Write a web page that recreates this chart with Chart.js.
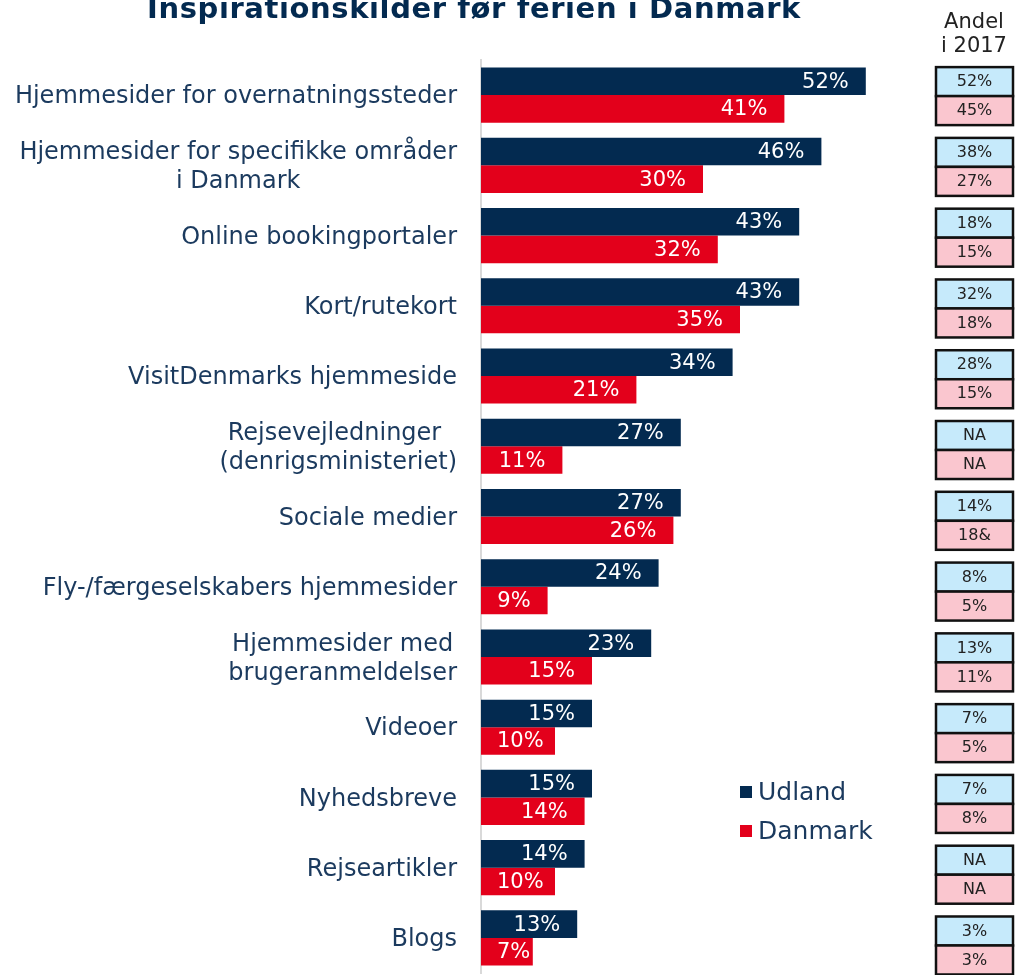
<!DOCTYPE html>
<html>
<head>
<meta charset="utf-8">
<script src="https://cdn.jsdelivr.net/npm/chart.js@4.4.0/dist/chart.umd.min.js"></script>
<style>
  html, body { margin: 0; padding: 0; background: #fff; }
  #wrap { position: relative; width: 1015px; height: 975px; }
</style>
</head>
<body>
<div id="wrap"><canvas id="chart"></canvas></div>
<script>
const title = 'Inspirationskilder før ferien i Danmark'
const columnHeader = ['Andel', 'i 2017']
const seriesNames = ['Udland', 'Danmark']

const categories = [
  'Hjemmesider for overnatningssteder',
  ['Hjemmesider for specifikke områder', 'i Danmark'],
  'Online bookingportaler',
  'Kort/rutekort',
  'VisitDenmarks hjemmeside',
  ['Rejsevejledninger ', '(denrigsministeriet)'],
  'Sociale medier',
  'Fly-/færgeselskabers hjemmesider',
  ['Hjemmesider med', 'brugeranmeldelser'],
  'Videoer',
  'Nyhedsbreve',
  'Rejseartikler',
  'Blogs'
]

const udland = [52, 46, 43, 43, 34, 27, 27, 24, 23, 15, 15, 14, 13]
const danmark = [41, 30, 32, 35, 21, 11, 26, 9, 15, 10, 14, 10, 7]

const udland2017 = ['52%', '38%', '18%', '32%', '28%', 'NA', '14%', '8%', '13%', '7%', '7%', 'NA', '3%']
const danmark2017 = ['45%', '27%', '15%', '18%', '15%', 'NA', '18&', '5%', '11%', '5%', '8%', 'NA', '3%']

const NAVY = '#032a50'
const RED = '#e3001b'
const TEXT = '#1b3a5e'
const FONT = "'DejaVu Sans', sans-serif"

const extras = {
  id: 'extras',
  afterDraw(chart) {
    const { ctx, scales: { x, y } } = chart
    ctx.save()

    // title (cut at the top like the source)
    ctx.font = `bold 29px ${FONT}`
    ctx.letterSpacing = '0.6px'
    ctx.fillStyle = NAVY
    ctx.textAlign = 'center'
    ctx.textBaseline = 'alphabetic'
    ctx.fillText(title, 474, 18)
    ctx.letterSpacing = '0px'

    // category labels, right aligned block, lines centred inside it
    ctx.font = `24px ${FONT}`
    ctx.fillStyle = TEXT
    ctx.textBaseline = 'middle'
    categories.forEach((c, i) => {
      const lines = Array.isArray(c) ? c : [c]
      const yc = y.getPixelForValue(i) + 2
      const w = Math.max(...lines.map(l => ctx.measureText(l).width))
      const cx = 457 - w / 2
      lines.forEach((l, j) => {
        ctx.fillText(l, cx, yc + (j - (lines.length - 1) / 2) * 29)
      })
    })

    // values inside bars
    ctx.font = `21px ${FONT}`
    ctx.fillStyle = '#fff'
    ctx.textAlign = 'right'
    chart.data.datasets.forEach((ds, di) => {
      chart.getDatasetMeta(di).data.forEach((bar, i) => {
        const txt = ds.data[i] + '%'
        const w = ctx.measureText(txt).width
        const right = Math.max(bar.x - 17, x.left + 16 + w)
        ctx.fillText(txt, right, bar.y + 1)
      })
    })

    // legend
    ctx.font = `25px ${FONT}`
    ctx.textAlign = 'left'
    ;[NAVY, RED].forEach((col, k) => {
      const ly = 792 + k * 39
      ctx.fillStyle = col
      ctx.fillRect(740, ly - 6, 12, 12)
      ctx.fillStyle = TEXT
      ctx.fillText(seriesNames[k], 758, ly + 1)
    })

    // 2017 column
    ctx.fillStyle = '#222'
    ctx.textAlign = 'center'
    ctx.font = `21px ${FONT}`
    ctx.fillText(columnHeader[0], 974, 23)
    ctx.fillText(columnHeader[1], 974, 47)

    ctx.font = `16px ${FONT}`
    ctx.lineWidth = 2.5
    ctx.strokeStyle = '#111'
    categories.forEach((c, i) => {
      const yc = y.getPixelForValue(i) + 1 + i * 0.55
      const boxes = [[udland2017[i], '#c6eafb', yc - 29], [danmark2017[i], '#fac6cf', yc]]
      boxes.forEach(([txt, bg, top]) => {
        ctx.fillStyle = bg
        ctx.fillRect(936, top, 77, 29)
        ctx.strokeRect(936, top, 77, 29)
        ctx.fillStyle = '#222'
        ctx.fillText(txt, 974.5, top + 15)
      })
    })

    ctx.restore()
  }
}

new Chart(document.getElementById('chart'), {
  type: 'bar',
  data: {
    labels: categories,
    datasets: [{
      label: seriesNames[0],
      data: udland,
      backgroundColor: NAVY,
      categoryPercentage: 0.785,
      barPercentage: 1
    }, {
      label: seriesNames[1],
      data: danmark,
      backgroundColor: RED,
      categoryPercentage: 0.785,
      barPercentage: 1
    }]
  },
  options: {
    indexAxis: 'y',
    responsive: true,
    maintainAspectRatio: false,
    animation: false,
    layout: { padding: { top: 60, right: 90, bottom: 2, left: 0 } },
    plugins: {
      legend: { display: false },
      tooltip: { enabled: false }
    },
    scales: {
      x: {
        display: false,
        min: 0,
        max: 60
      },
      y: {
        afterFit: s => { s.width = 481 },
        ticks: { display: false },
        grid: { display: false },
        border: { display: true, color: '#d9d9d9', width: 2 }
      }
    }
  },
  plugins: [extras]
})
</script>
</body>
</html>
